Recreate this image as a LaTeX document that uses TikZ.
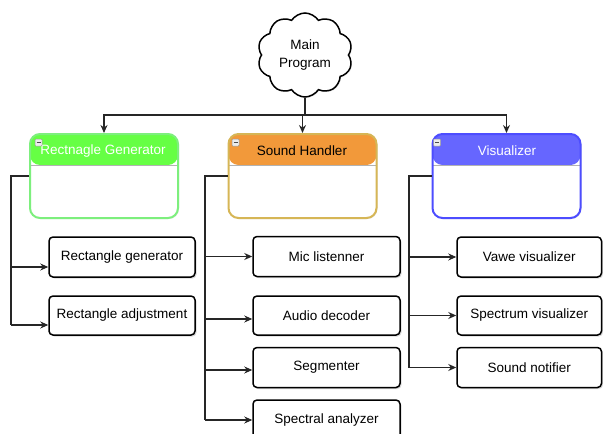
\documentclass[tikz,border=0pt]{standalone}
\usepackage{fontspec}
\setmainfont{Liberation Sans}
\usetikzlibrary{shapes.symbols,arrows.meta,shadows,calc}
\definecolor{gfill}{HTML}{66FF44}
\definecolor{gline}{HTML}{7DEF7D}
\definecolor{ofill}{HTML}{F2993A}
\definecolor{oline}{HTML}{D6B656}
\definecolor{bfill}{HTML}{6666FF}
\definecolor{bline}{HTML}{4D4DFF}
\begin{document}
\begin{tikzpicture}[x=1pt,y=-1pt,
  txt/.style={font=\fontsize{13.5}{18}\selectfont},
  conn/.style={draw=black!85, line width=1.1pt},
  arr/.style={conn, -{Stealth[length=8pt,width=7pt]}},
  leaf/.style={txt, draw=black, line width=1.5pt, rounded corners=4pt, fill=white,
    minimum height=40pt, inner sep=0pt,
    drop shadow={shadow xshift=1.5pt, shadow yshift=-1.5pt, opacity=0.3}},
  cont/.style 2 args={draw=#1, line width=2pt, rounded corners=10pt, fill=white,
    minimum width=148pt, minimum height=84pt, inner sep=0pt,
    drop shadow={shadow xshift=1pt, shadow yshift=-1pt, opacity=0.2},
    path picture={\fill[#2] (path picture bounding box.north west) rectangle ([yshift=-31pt]path picture bounding box.north east);
      \draw[black!30, line width=0.8pt] ([yshift=-31pt]path picture bounding box.north west) -- ([yshift=-31pt]path picture bounding box.north east);}},
  icon/.style={draw=gray!80, fill=gray!15, minimum size=7pt, inner sep=0pt, rounded corners=0.8pt, line width=0.5pt,
    path picture={\draw[black!70, line width=0.8pt] ([xshift=1.5pt]path picture bounding box.west) -- ([xshift=-1.5pt]path picture bounding box.east);}}
]
\useasboundingbox (0,0) rectangle (603,434);
\clip (0,0) rectangle (603,434);

% main cloud
\node[cloud, draw, line width=1.5pt, cloud puffs=10, cloud puff arc=115, aspect=1.1,
  minimum width=95pt, minimum height=84pt, inner sep=0pt, align=center, txt, fill=white,
  drop shadow={shadow xshift=1pt, shadow yshift=-1pt, opacity=0.2}] (main) at (305,55) {Main\\Program};

% containers
\node[cont={gline}{gfill}] (c1) at (104,176) {};
\node[cont={oline}{ofill}] (c2) at (302.5,176) {};
\node[cont={bline}{bfill}] (c3) at (506.5,176) {};
\node[txt, text=white] (t1) at (103,151) {Rectnagle Generator};
\node[txt, text=black] (t2) at (302,151) {Sound Handler};
\node[txt, text=white] (t3) at (507,151) {Visualizer};
\node[icon] (i1) at (38.5,142.5) {};
\node[icon] (i2) at (235.5,142.5) {};
\node[icon] (i3) at (437,142.5) {};

% leaves
\node[leaf, minimum width=146pt] (rg) at (122,257) {Rectangle generator};
\node[leaf, minimum width=146pt, minimum height=39pt] (ra) at (122,315.5) {Rectangle adjustment};
\node[leaf, minimum width=147pt] (ml) at (326.5,256.5) {Mic listenner};
\node[leaf, minimum width=147pt, minimum height=39pt] (ad) at (326.5,315.5) {Audio decoder};
\node[leaf, minimum width=147pt] (sg) at (326.5,367.5) {Segmenter};
\node[leaf, minimum width=147pt] (sa) at (326.5,420) {Spectral analyzer};
\node[leaf, minimum width=144.5pt] (vv) at (529.25,257) {Vawe visualizer};
\node[leaf, minimum width=144.5pt, minimum height=39pt] (sv) at (529.25,315.5) {Spectrum visualizer};
\node[leaf, minimum width=144.5pt] (sn) at (529.25,367.5) {Sound notifier};

% connectors from main
\coordinate (j) at (306,115);
\draw[conn] (main.south) -- (main.south |- j);
\draw[arr] (main.south |- j) -| (c1.north);
\draw[arr] (main.south |- j) -| (c2.north);
\draw[arr] (main.south |- j) -| (c3.north);

% spines
\coordinate (s1) at (11,0);
\coordinate (s2) at (205,0);
\coordinate (s3) at (409,0);

\coordinate (a-rg) at ([yshift=-10pt]rg.west);
\coordinate (a-ra) at ([yshift=-9.5pt]ra.west);
\draw[conn] (c1.west) -| (s1 |- a-ra);
\draw[arr] (s1 |- a-rg) -- (a-rg);
\draw[arr] (s1 |- a-ra) -- (a-ra);

\coordinate (a-ad) at ([yshift=-3.5pt]ad.west);
\coordinate (a-sg) at ([yshift=-2.5pt]sg.west);
\draw[conn] (c2.west) -| (s2 |- sa.west);
\draw[arr] (s2 |- ml.west) -- (ml.west);
\draw[arr] (s2 |- a-ad) -- (a-ad);
\draw[arr] (s2 |- a-sg) -- (a-sg);
\draw[arr] (s2 |- sa.west) -- (sa.west);

\draw[conn] (c3.west) -| (s3 |- sn.west);
\draw[arr] (s3 |- vv.west) -- (vv.west);
\draw[arr] (s3 |- sv.west) -- (sv.west);
\draw[arr] (s3 |- sn.west) -- (sn.west);
\end{tikzpicture}
\end{document}
